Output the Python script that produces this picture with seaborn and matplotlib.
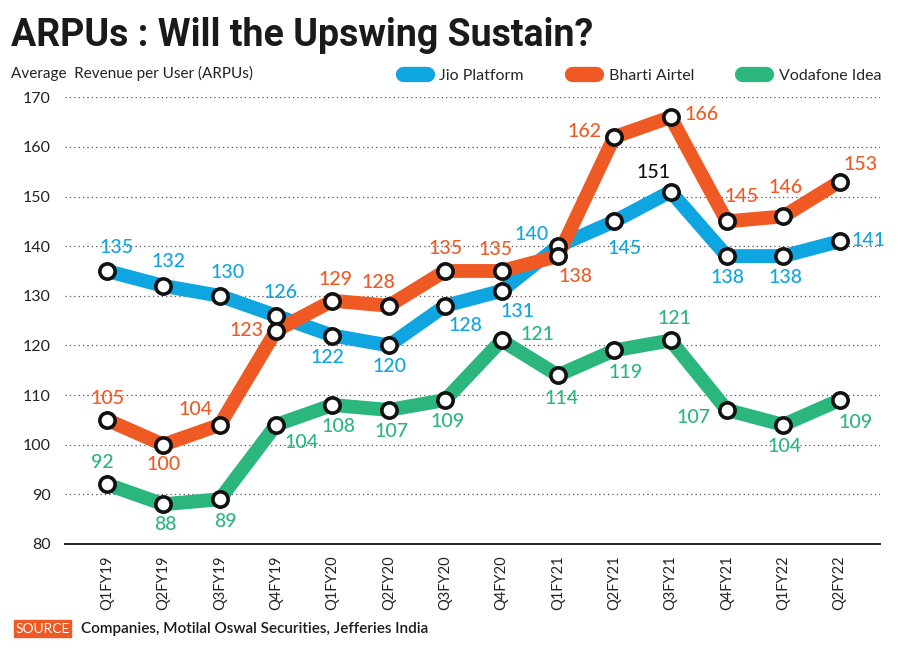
import matplotlib
matplotlib.use("Agg")
import matplotlib.pyplot as plt
import seaborn as sns
import pandas as pd
from matplotlib.lines import Line2D
from matplotlib.patches import FancyBboxPatch

sns.set_style("white")
plt.rcParams["font.family"] = ["Lato", "DejaVu Sans"]

# data
quarters = ["Q1FY19", "Q2FY19", "Q3FY19", "Q4FY19", "Q1FY20", "Q2FY20", "Q3FY20",
            "Q4FY20", "Q1FY21", "Q2FY21", "Q3FY21", "Q4FY21", "Q1FY22", "Q2FY22"]
jio = [135, 132, 130, 126, 122, 120, 128, 131, 140, 145, 151, 138, 138, 141]
airtel = [105, 100, 104, 123, 129, 128, 135, 135, 138, 162, 166, 145, 146, 153]
vodafone = [92, 88, 89, 104, 108, 107, 109, 121, 114, 119, 121, 107, 104, 109]

series_names = ["Jio Platform", "Bharti Airtel", "Vodafone Idea"]
colors = {"Jio Platform": "#0ea5e0", "Bharti Airtel": "#ef5a24", "Vodafone Idea": "#2bb67e"}

# label offsets in pixels (dx, dy), dy positive = up
offsets = {
    "Jio Platform": [(9, 23), (5, 24), (8, 23), (4, 23), (-5, -22), (1, -21), (20, -20),
                     (16, -21), (-26, 12), (10, -27), (-17, 19), (1, -21), (2, -21), (29, 1)],
    "Bharti Airtel": [(0, 21), (0, -20), (-24, 15), (-30, 0), (3, 21), (-10, 23), (0, 22),
                      (-6, 21), (18, -20), (-30, 5), (31, 3), (15, 25), (2, 29), (21, 17)],
    "Vodafone Idea": [(-5, 22), (2, -20), (6, -22), (25, -18), (6, -22), (3, -22), (2, -21),
                      (36, 6), (4, -23), (11, -22), (4, 22), (-33, -8), (1, -22), (16, -22)],
}

df = pd.DataFrame({"quarter": quarters, "idx": range(len(quarters)),
                   "Jio Platform": jio, "Bharti Airtel": airtel, "Vodafone Idea": vodafone})
long = df.melt(id_vars=["quarter", "idx"], value_vars=series_names,
               var_name="series", value_name="arpu")

fig = plt.figure(figsize=(9, 6.53), dpi=100)
ax = fig.add_axes([0.072, 0.167, 0.906, 0.684])

for name in ["Vodafone Idea", "Jio Platform", "Bharti Airtel"]:
    sub = long[long["series"] == name]
    sns.lineplot(data=sub, x="idx", y="arpu", ax=ax, color=colors[name], lw=10,
                 solid_capstyle="round", solid_joinstyle="round", zorder=3, legend=False)
    ax.plot(sub["idx"], sub["arpu"], "o", ms=11, mfc="white", mec="#111111", mew=2.6, zorder=4)
    for (i, v), (dx, dy) in zip(zip(sub["idx"], sub["arpu"]), offsets[name]):
        c = colors[name]
        if name == "Jio Platform" and v == 151:
            c = "#111111"
        ax.annotate(str(v), (i, v), xytext=(dx, dy), textcoords="offset pixels",
                    ha="center", va="center", fontsize=14, fontweight="medium",
                    color=c, zorder=5)

ax.set_xlim(-0.75, 13.72)
ax.set_ylim(80, 170)
ax.set_yticks(range(80, 171, 10))
ax.set_xticks(range(len(quarters)))
ax.set_xticklabels(quarters, rotation=90, fontsize=10.5, color="#222222")
ax.tick_params(axis="y", labelsize=11.5, colors="#222222", length=0, pad=10)
ax.tick_params(axis="x", length=0, pad=8)
ax.set_xlabel("")
ax.set_ylabel("")
for s in ["top", "right", "left"]:
    ax.spines[s].set_visible(False)
ax.spines["bottom"].set_color("#222222")
ax.spines["bottom"].set_linewidth(1.4)
ax.grid(axis="y", linestyle=(0, (1, 2.5)), color="#555555", lw=0.9)
ax.grid(axis="x", visible=False)
ax.set_axisbelow(True)

fig.text(0.012, 0.945, "ARPUs : Will the Upswing Sustain?", fontsize=27, fontweight="bold",
         family="Roboto", color="#1a1a1a", va="center", ha="left")
fig.text(0.012, 0.888, "Average  Revenue per User (ARPUs)", fontsize=11, color="#222222",
         va="center", ha="left")

handles = [Line2D([0], [0], color=colors[n], lw=11, solid_capstyle="round") for n in series_names]
fig.legend(handles, series_names, loc="center right", bbox_to_anchor=(0.995, 0.884), ncol=3,
           frameon=False, fontsize=11.5, handlelength=1.5, columnspacing=3.0, handletextpad=0.8)

fig.patches.append(FancyBboxPatch((0.016, 0.024), 0.063, 0.026, boxstyle="square,pad=0",
                                  transform=fig.transFigure, color="#ef5a24", figure=fig))
fig.text(0.0475, 0.037, "SOURCE", fontsize=10, color="white", ha="center", va="center")
fig.text(0.09, 0.036, "Companies, Motilal Oswal Securities, Jefferies India", fontsize=11,
         color="#1a1a1a", ha="left", va="center", fontweight="semibold")

fig.savefig("out.png", dpi=100)
